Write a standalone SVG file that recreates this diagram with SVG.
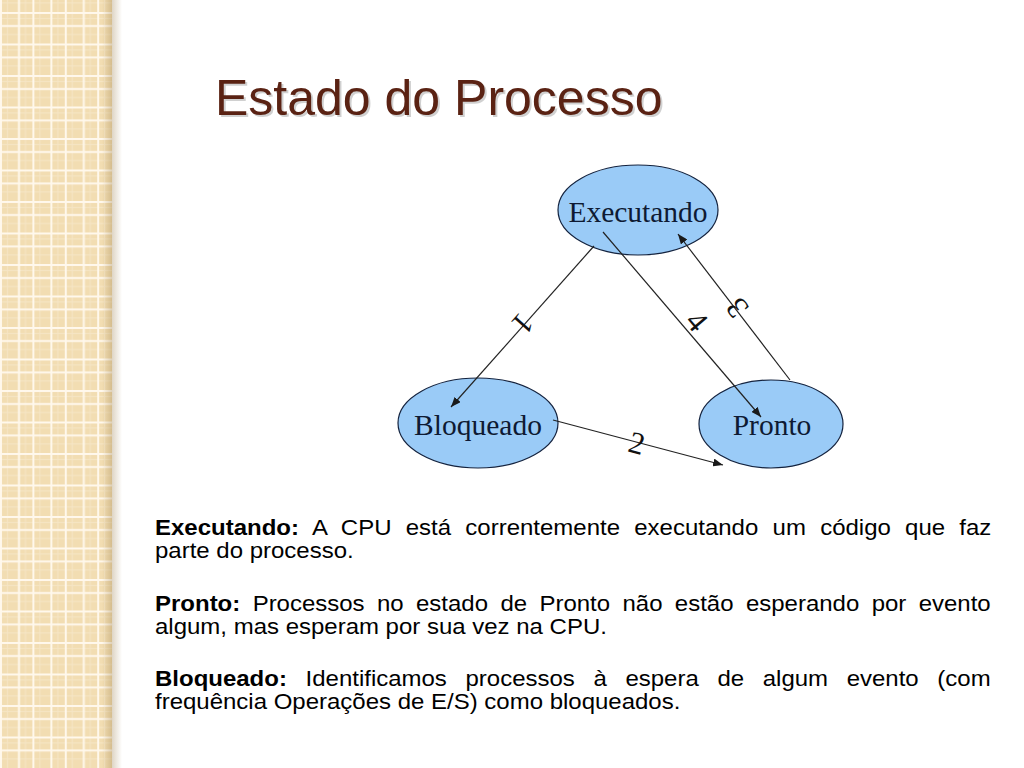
<svg xmlns="http://www.w3.org/2000/svg" width="1024" height="768" viewBox="0 0 1024 768">
  <defs>
    <pattern id="grid" patternUnits="userSpaceOnUse" x="0" y="12" width="32.4" height="31.5">
      <rect width="32.4" height="31.5" fill="#F2DDB2"/>
      <rect x="7" y="0" width="1" height="31.5" fill="#F6E6C6"/>
      <rect x="25" y="0" width="1" height="31.5" fill="#F6E6C6"/>
      <rect x="0" y="6" width="32.4" height="1" fill="#F6E6C6"/>
      <rect x="0" y="22" width="32.4" height="1" fill="#F6E6C6"/>
      <rect x="0" y="0" width="2" height="31.5" fill="#FFF8EC"/>
      <rect x="18" y="0" width="2" height="31.5" fill="#FFF8EC"/>
      <rect x="0" y="0" width="32.4" height="2" fill="#FFF8EC"/>
      <rect x="0" y="13" width="32.4" height="2" fill="#FFF8EC"/>
    </pattern>
    <linearGradient id="edge" x1="0" y1="0" x2="1" y2="0">
      <stop offset="0" stop-color="#8A6A30" stop-opacity="0"/>
      <stop offset="0.5" stop-color="#8A6A30" stop-opacity="0.28"/>
      <stop offset="1" stop-color="#8A6A30" stop-opacity="0"/>
    </linearGradient>
    <marker id="arrow" viewBox="0 0 10 8" refX="10" refY="4" markerWidth="10" markerHeight="8" markerUnits="userSpaceOnUse" orient="auto">
      <path d="M0,0 L10,4 L0,8 Z" fill="#1a1a1a"/>
    </marker>
    <style>
      .state { fill: #9ACBF7; stroke: #14233F; stroke-width: 1.2; }
      .stateLabel { font-family: "Liberation Serif", "Times New Roman", serif; font-size: 29.5px; fill: #0E1A33; text-anchor: middle; }
      .edge { stroke: #222222; stroke-width: 1.2; fill: none; marker-end: url(#arrow); }
      .edgeLabel { font-family: "Liberation Serif", "Times New Roman", serif; font-size: 31px; fill: #111111; text-anchor: middle; }
      .title { font-family: "Liberation Sans", Arial, sans-serif; font-size: 50px; fill: #5A2213; }
      .body { font-family: "Liberation Sans", Arial, sans-serif; font-size: 24px; fill: #000000; }
      .b { font-weight: bold; }
    </style>
  </defs>

  <rect width="1024" height="768" fill="#FFFFFF"/>

  <!-- left decorative border -->
  <g id="border">
    <rect x="0" y="0" width="112" height="768" fill="url(#grid)"/>
    <rect x="102" y="0" width="20" height="768" fill="url(#edge)"/>
  </g>

  <!-- title -->
  <g id="title">
    <text class="title" x="217" y="117" style="fill:#000000;opacity:0.18">Estado do Processo</text>
    <text class="title" x="215" y="115">Estado do Processo</text>
  </g>

  <!-- nodes -->
  <g id="executando">
    <ellipse class="state" cx="638" cy="210" rx="80" ry="45"/>
    <text class="stateLabel" x="638" y="222">Executando</text>
  </g>
  <g id="bloqueado">
    <ellipse class="state" cx="478" cy="423" rx="80" ry="45"/>
    <text class="stateLabel" x="478" y="435">Bloqueado</text>
  </g>
  <g id="pronto">
    <ellipse class="state" cx="771" cy="424" rx="72" ry="44"/>
    <text class="stateLabel" x="772" y="435">Pronto</text>
  </g>

  <!-- connectors -->
  <g id="connectors">
    <g id="edge1">
      <line class="edge" x1="594" y1="246" x2="451" y2="407"/>
      <text class="edgeLabel" transform="translate(523,324) rotate(131.5)" x="0" y="10.5">1</text>
    </g>
    <g id="edge2">
      <line class="edge" x1="553" y1="420" x2="723" y2="465"/>
      <text class="edgeLabel" transform="translate(637,443) rotate(14.5)" x="0" y="10.5">2</text>
    </g>
    <g id="edge3">
      <line class="edge" x1="790" y1="380" x2="678" y2="234"/>
      <text class="edgeLabel" transform="translate(737,308) rotate(232.5)" x="0" y="10.5">3</text>
    </g>
    <g id="edge4">
      <line class="edge" x1="603" y1="232" x2="761" y2="417"/>
      <text class="edgeLabel" transform="translate(697,321) rotate(49.5)" x="0" y="10.5">4</text>
    </g>
  </g>

  <!-- description text -->
  <g id="description" transform="matrix(1 0 0 0.92 0 0)">
    <text class="body" x="155" y="581.5" style="word-spacing:7.6px"><tspan class="b">Executando:</tspan> A CPU está correntemente executando um código que faz</text>
    <text class="body" x="155" y="606.5">parte do processo.</text>
    <text class="body" x="155" y="664.1" style="word-spacing:5.70px"><tspan class="b">Pronto:</tspan> Processos no estado de Pronto não estão esperando por evento</text>
    <text class="body" x="155" y="689.1">algum, mas esperam por sua vez na CPU.</text>
    <text class="body" x="155" y="745.7" style="word-spacing:11.97px"><tspan class="b">Bloqueado:</tspan> Identificamos processos à espera de algum evento (com</text>
    <text class="body" x="155" y="770.7">frequência Operações de E/S) como bloqueados.</text>
  </g>
</svg>
